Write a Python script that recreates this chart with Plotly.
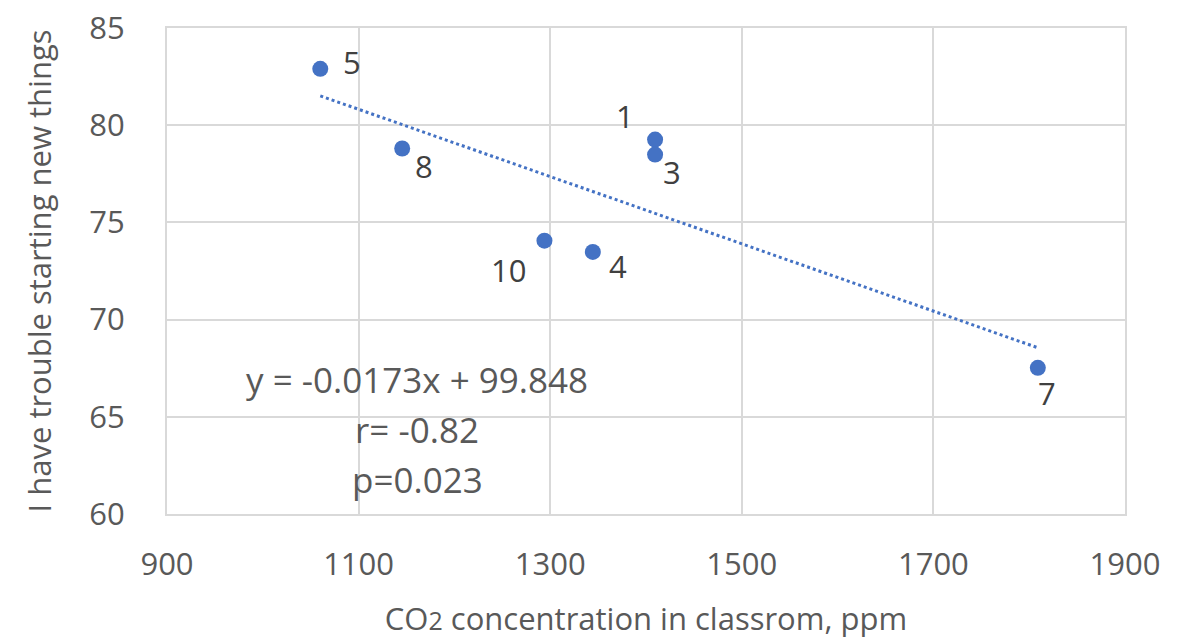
import plotly.graph_objects as go

# Data
co2_ppm = [1409.5, 1409.5, 1344.5, 1060, 1809, 1145.5, 1294]
trouble_score = [79.26, 78.49, 73.48, 82.9, 67.52, 78.8, 74.06]
point_labels = ["1", "3", "4", "5", "7", "8", "10"]
label_dx = [-30, 17, 25, 32, 9, 22, -36]
label_dy = [24, -17, -14, 7, -25, -17, -29]
slope = -0.0173
intercept = 99.848
x_ticks = [900, 1100, 1300, 1500, 1700, 1900]
y_ticks = [60, 65, 70, 75, 80, 85]
stats_lines = ["y = -0.0173x + 99.848", "r= -0.82", "p=0.023"]
stats_y = [66.92, 64.35, 61.78]
stats_x = 1161

BLUE = "#4472C4"
GRAY = "#595959"
GRID = "#d9d9d9"
FONT = "Open Sans"

fig = go.Figure()

tx = [min(co2_ppm), max(co2_ppm)]
ty = [slope * v + intercept for v in tx]
fig.add_trace(go.Scatter(x=tx, y=ty, mode="lines",
                         line=dict(color=BLUE, width=3, dash="dot"),
                         hoverinfo="skip", showlegend=False))

fig.add_trace(go.Scatter(x=co2_ppm, y=trouble_score, mode="markers",
                         marker=dict(color=BLUE, size=16),
                         showlegend=False))

for xv, yv, t, dx, dy in zip(co2_ppm, trouble_score, point_labels, label_dx, label_dy):
    fig.add_annotation(x=xv, y=yv, text=t, showarrow=False,
                       xshift=dx, yshift=dy, xanchor="center", yanchor="middle",
                       font=dict(family=FONT, size=31, color="#404040"))

for t, yv in zip(stats_lines, stats_y):
    fig.add_annotation(x=stats_x, y=yv, text=t, showarrow=False,
                       font=dict(family=FONT, size=35, color=GRAY),
                       xanchor="center", yanchor="middle")

fig.update_xaxes(range=[900, 1900], tickvals=x_ticks, showgrid=True,
                 gridcolor=GRID, gridwidth=2, zeroline=False,
                 showline=True, linecolor=GRID, linewidth=2, mirror=True,
                 tickfont=dict(family=FONT, size=31, color=GRAY),
                 ticklabelstandoff=22,
                 title=dict(text="CO<span style='font-size:25px'>2</span> concentration in classrom, ppm",
                            font=dict(family=FONT, size=31, color=GRAY),
                            standoff=30))
fig.update_yaxes(range=[60, 85], tickvals=y_ticks, showgrid=True,
                 gridcolor=GRID, gridwidth=2, zeroline=False,
                 showline=True, linecolor=GRID, linewidth=2, mirror=True,
                 tickfont=dict(family=FONT, size=31, color=GRAY),
                 ticklabelstandoff=34,
                 title=dict(text="I have trouble starting new things",
                            font=dict(family=FONT, size=31, color=GRAY),
                            standoff=28))

fig.update_layout(width=1183, height=639,
                  margin=dict(l=167, r=58, t=28, b=125, autoexpand=False),
                  plot_bgcolor="white", paper_bgcolor="white")

fig.write_html("out.html")
